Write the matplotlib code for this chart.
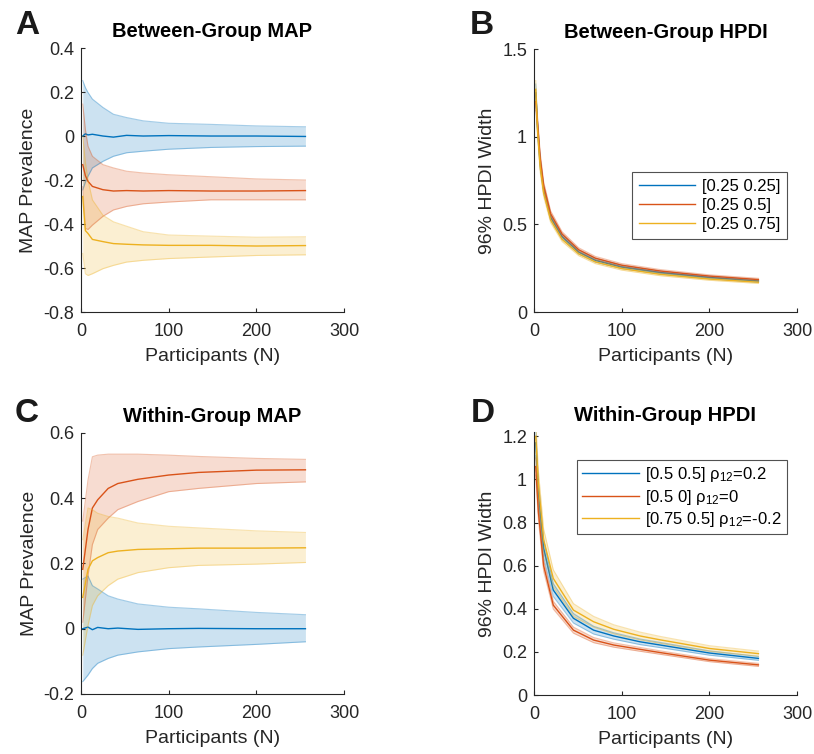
import matplotlib
matplotlib.use("Agg")
import matplotlib.pyplot as plt
import numpy as np
from matplotlib.ticker import FuncFormatter

plt.rcParams['font.family'] = ['Liberation Sans', 'DejaVu Sans']
plt.rcParams['mathtext.default'] = 'regular'
plt.rcParams['axes.unicode_minus'] = False

blue = '#0072BD'
orange = '#D95319'
yellow = '#EDB120'

# A: between-group MAP (mean and band edges)
n_a = [2, 5, 8, 13, 25, 37, 52, 71, 100, 148, 200, 256]
a_blue = [0.0, 0.01, 0.005, 0.008, 0.0, -0.005, 0.003, 0.0, 0.002, 0.0, 0.0, -0.002]
a_blue_hi = [0.252, 0.22, 0.198, 0.168, 0.13, 0.099, 0.084, 0.069, 0.058, 0.053, 0.046, 0.042]
a_blue_lo = [-0.245, -0.21, -0.183, -0.145, -0.115, -0.092, -0.076, -0.069, -0.06, -0.052, -0.048, -0.046]
a_orange = [-0.13, -0.18, -0.206, -0.229, -0.244, -0.25, -0.248, -0.25, -0.248, -0.25, -0.25, -0.248]
a_orange_hi = [0.145, 0.03, -0.046, -0.092, -0.13, -0.145, -0.16, -0.168, -0.176, -0.185, -0.195, -0.2]
a_orange_lo = [-0.23, -0.42, -0.425, -0.405, -0.365, -0.336, -0.32, -0.308, -0.30, -0.29, -0.29, -0.29]
a_yellow = [-0.275, -0.43, -0.443, -0.47, -0.48, -0.489, -0.492, -0.495, -0.497, -0.497, -0.5, -0.498]
a_yellow_hi = [0.0, -0.12, -0.2, -0.29, -0.36, -0.39, -0.41, -0.435, -0.45, -0.455, -0.46, -0.458]
a_yellow_lo = [-0.534, -0.626, -0.634, -0.626, -0.603, -0.588, -0.573, -0.565, -0.557, -0.55, -0.543, -0.54]

# B: between-group HPDI width
n_b = [2, 4, 7, 11, 19, 32, 51, 70, 100, 144, 200, 256]
b_blue = [1.25, 1.06, 0.85, 0.70, 0.54, 0.43, 0.342, 0.295, 0.257, 0.225, 0.197, 0.177]
b_orange = [1.2, 1.08, 0.88, 0.72, 0.56, 0.445, 0.355, 0.307, 0.267, 0.234, 0.205, 0.185]
b_yellow = [1.27, 1.04, 0.83, 0.68, 0.525, 0.415, 0.332, 0.286, 0.248, 0.215, 0.188, 0.17]
b_hw = [0.05, 0.035, 0.03, 0.022, 0.016, 0.013, 0.011, 0.01, 0.009, 0.008, 0.007, 0.007]
b_labels = ['[0.25 0.25]', '[0.25 0.5]', '[0.25 0.75]']

# C: within-group MAP
n_c = [2, 8, 13, 19, 31, 42, 65, 100, 134, 200, 256]
c_blue = [0.0, 0.005, -0.003, 0.004, 0.0, 0.002, -0.002, 0.0, 0.001, 0.0, 0.0]
c_blue_hi = [0.152, 0.162, 0.132, 0.122, 0.101, 0.091, 0.076, 0.066, 0.061, 0.05, 0.043]
c_blue_lo = [-0.162, -0.142, -0.122, -0.106, -0.091, -0.081, -0.071, -0.061, -0.056, -0.048, -0.04]
c_orange = [0.182, 0.304, 0.37, 0.395, 0.43, 0.445, 0.458, 0.471, 0.479, 0.486, 0.487]
c_orange_hi = [0.33, 0.456, 0.527, 0.532, 0.535, 0.535, 0.535, 0.532, 0.528, 0.522, 0.519]
c_orange_lo = [0.02, 0.162, 0.258, 0.304, 0.339, 0.365, 0.39, 0.42, 0.43, 0.445, 0.45]
c_yellow = [0.096, 0.182, 0.208, 0.218, 0.233, 0.238, 0.243, 0.245, 0.247, 0.247, 0.248]
c_yellow_hi = [0.273, 0.37, 0.365, 0.354, 0.344, 0.339, 0.324, 0.314, 0.309, 0.3, 0.295]
c_yellow_lo = [-0.081, 0.01, 0.071, 0.101, 0.132, 0.152, 0.172, 0.187, 0.194, 0.198, 0.203]

# D: within-group HPDI width
n_d = [2, 5, 11, 22, 45, 68, 91, 121, 144, 200, 256]
d_blue = [1.17, 0.94, 0.68, 0.487, 0.356, 0.301, 0.274, 0.247, 0.232, 0.195, 0.17]
d_orange = [1.06, 0.85, 0.6, 0.417, 0.301, 0.255, 0.232, 0.212, 0.197, 0.162, 0.14]
d_yellow = [1.2, 0.98, 0.72, 0.541, 0.394, 0.34, 0.305, 0.274, 0.256, 0.216, 0.192]
d_hw_blue = [0.06, 0.05, 0.04, 0.03, 0.022, 0.018, 0.015, 0.013, 0.012, 0.01, 0.009]
d_hw_orange = [0.04, 0.035, 0.025, 0.018, 0.014, 0.012, 0.01, 0.009, 0.008, 0.007, 0.007]
d_hw_yellow = [0.07, 0.06, 0.05, 0.04, 0.03, 0.025, 0.021, 0.018, 0.016, 0.013, 0.012]
d_labels = ['[0.5 0.5] ρ$_{12}$=0.2', '[0.5 0] ρ$_{12}$=0', '[0.75 0.5] ρ$_{12}$=-0.2']


def band(ax, n, mid, lo, hi, color):
    ax.fill_between(n, lo, hi, color=color, alpha=0.2, lw=0)
    ax.plot(n, lo, color=color, alpha=0.35, lw=0.8)
    ax.plot(n, hi, color=color, alpha=0.35, lw=0.8)
    line, = ax.plot(n, mid, color=color, lw=1.0)
    return line


def fmt(v, p):
    v = round(v, 3)
    if abs(v) < 1e-9:
        v = 0.0
    return '%g' % v


def style(ax, title, ylabel, ylim, yticks):
    ax.set_xlim(0, 300)
    ax.set_xticks([0, 100, 200, 300])
    ax.set_ylim(*ylim)
    ax.set_yticks(yticks)
    ax.yaxis.set_major_formatter(FuncFormatter(fmt))
    ax.spines['top'].set_visible(False)
    ax.spines['right'].set_visible(False)
    for s in ['left', 'bottom']:
        ax.spines[s].set_color('#262626')
        ax.spines[s].set_linewidth(0.8)
    ax.tick_params(direction='in', length=3, width=0.8, colors='#262626',
                   labelsize=13, pad=5)
    ax.tick_params(axis='x', pad=8)
    ax.set_title(title, fontsize=14.5, fontweight='bold', pad=8)
    ax.set_xlabel('Participants (N)', fontsize=14, color='#262626', labelpad=6)
    ax.set_ylabel(ylabel, fontsize=14, color='#262626')


fig = plt.figure(figsize=(8.14, 7.54), dpi=100)
ax_a = fig.add_axes([0.0995, 0.5862, 0.3231, 0.3501])
ax_b = fig.add_axes([0.656, 0.5862, 0.3231, 0.3488])
ax_c = fig.add_axes([0.0995, 0.0796, 0.3231, 0.3462])
ax_d = fig.add_axes([0.656, 0.0782, 0.3231, 0.3488])

# A
band(ax_a, n_a, a_blue, a_blue_lo, a_blue_hi, blue)
band(ax_a, n_a, a_orange, a_orange_lo, a_orange_hi, orange)
band(ax_a, n_a, a_yellow, a_yellow_lo, a_yellow_hi, yellow)
style(ax_a, 'Between-Group MAP', 'MAP Prevalence', (-0.8, 0.4), np.arange(-0.8, 0.41, 0.2))

# B
lines = []
for mid, c in [(b_blue, blue), (b_orange, orange), (b_yellow, yellow)]:
    m = np.array(mid)
    hw = np.array(b_hw)
    lines.append(band(ax_b, n_b, m, m - hw, m + hw, c))
style(ax_b, 'Between-Group HPDI', '96% HPDI Width', (0, 1.5), [0, 0.5, 1, 1.5])
leg = ax_b.legend(lines, b_labels, loc='lower right', bbox_to_anchor=(0.962, 0.278),
                  fontsize=12, fancybox=False, handlelength=3.4, handletextpad=0.4,
                  borderpad=0.4, labelspacing=0.25, borderaxespad=0)
leg.get_frame().set_edgecolor('#262626')
leg.get_frame().set_linewidth(0.8)

# C
band(ax_c, n_c, c_blue, c_blue_lo, c_blue_hi, blue)
band(ax_c, n_c, c_orange, c_orange_lo, c_orange_hi, orange)
band(ax_c, n_c, c_yellow, c_yellow_lo, c_yellow_hi, yellow)
style(ax_c, 'Within-Group MAP', 'MAP Prevalence', (-0.2, 0.6), np.arange(-0.2, 0.61, 0.2))

# D
lines = []
for mid, hw, c in [(d_blue, d_hw_blue, blue), (d_orange, d_hw_orange, orange),
                   (d_yellow, d_hw_yellow, yellow)]:
    m = np.array(mid)
    h = np.array(hw)
    lines.append(band(ax_d, n_d, m, m - h, m + h, c))
style(ax_d, 'Within-Group HPDI', '96% HPDI Width', (0, 1.22), np.arange(0, 1.21, 0.2))
leg = ax_d.legend(lines, d_labels, loc='upper right', bbox_to_anchor=(0.962, 0.893),
                  fontsize=12, fancybox=False, handlelength=3.4, handletextpad=0.4,
                  borderpad=0.3, labelspacing=0.2, borderaxespad=0)
leg.get_frame().set_edgecolor('#262626')
leg.get_frame().set_linewidth(0.8)

# panel letters
for x, y, s in [(15, 34, 'A'), (470, 34, 'B'), (15, 422, 'C'), (471, 422, 'D')]:
    fig.text(x / 814, 1 - y / 754, s, fontsize=24, fontweight='bold',
             va='baseline', ha='left', color='#1a1a1a')

fig.savefig('out.png', dpi=100)
